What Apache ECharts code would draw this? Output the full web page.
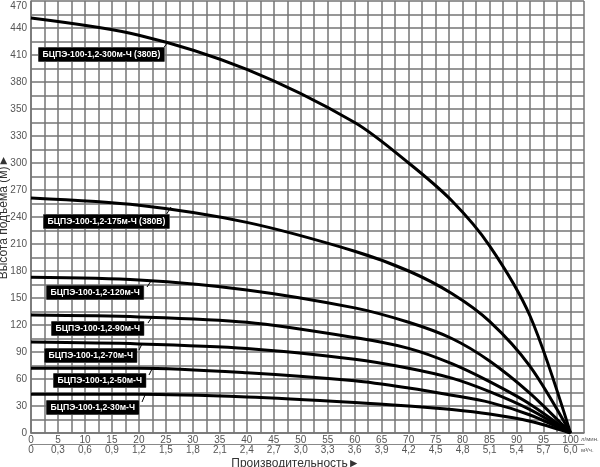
<!DOCTYPE html>
<html>
<head>
<meta charset="utf-8">
<script src="https://cdn.jsdelivr.net/npm/echarts@6/dist/echarts.min.js"></script>
<style>
  html, body { margin: 0; padding: 0; background: #fff; }
  #chart { width: 600px; height: 467px; }
</style>
</head>
<body>
<div id="chart"></div>
<script>
// расход, л/мин
var flow = [0, 20, 40, 60, 70, 78, 85, 92.5, 100]
// напор по шкале графика (м)
var head300 = [461, 442, 404, 345, 300, 258, 208, 130, 0]
var head175 = [261, 253, 234, 202, 180, 155, 124, 74, 0]
var head120 = [173, 170, 159, 139, 123, 105, 80, 44, 0]
var head90 = [131, 129, 123, 106, 94, 77, 57, 32, 0]
var head70 = [101, 99, 94, 82, 72, 61, 46, 26, 0]
var head50 = [72, 72, 67, 58, 50, 42, 34, 20, 0]
var head30 = [43, 43, 40, 34, 30, 26, 21, 13, 0]

var pumpNames = [
  'БЦПЭ-100-1,2-300м-Ч (380В)',
  'БЦПЭ-100-1,2-175м-Ч (380В)',
  'БЦПЭ-100-1,2-120м-Ч',
  'БЦПЭ-100-1,2-90м-Ч',
  'БЦПЭ-100-1,2-70м-Ч',
  'БЦПЭ-100-1,2-50м-Ч',
  'БЦПЭ-100-1,2-30м-Ч'
]

// подписи осей
var yTickLabels = ['0', '30', '60', '90', '120', '150', '180', '210', '240', '270', '300', '330', '350', '380', '410', '440', '470']
var flowLpm = ['0', '5', '10', '15', '20', '25', '30', '35', '40', '45', '50', '55', '60', '65', '70', '75', '80', '85', '90', '95', '100']
var flowM3h = ['0', '0,3', '0,6', '0,9', '1,2', '1,5', '1,8', '2,1', '2,4', '2,7', '3,0', '3,3', '3,6', '3,9', '4,2', '4,5', '4,8', '5,1', '5,4', '5,7', '6,0']

;(function () {
  var chart = echarts.init(document.getElementById('chart'))
  var heads = [head300, head175, head120, head90, head70, head50, head30]

  var gridLine = { show: true, lineStyle: { color: '#747474', width: 1.5 } }
  var font = '"Liberation Sans", Arial, sans-serif'

  var series = heads.map(function (h, k) {
    return {
      name: pumpNames[k],
      type: 'line',
      xAxisIndex: 0,
      showSymbol: false,
      smooth: 0.3,
      lineStyle: { color: '#000', width: 3 },
      data: flow.map(function (x, i) { return [x, h[i]] })
    }
  })

  // положение подписей насосов (пиксели)
  var boxes = [
    { left: 38, top: 47, line: [162, 50, 168, 42] },
    { left: 43, top: 214, line: [166, 215, 171, 207] },
    { left: 46, top: 285, line: [147, 287, 151, 281] },
    { left: 51, top: 321, line: [148, 323, 152, 317] },
    { left: 44, top: 348, line: [139, 350, 142, 344] },
    { left: 53, top: 373, line: [149, 375, 152, 369] },
    { left: 46, top: 400, line: [142, 402, 145, 395] }
  ]
  var graphics = []
  boxes.forEach(function (b, k) {
    graphics.push({
      type: 'line',
      shape: { x1: b.line[0], y1: b.line[1], x2: b.line[2], y2: b.line[3] },
      style: { stroke: '#000', lineWidth: 1 },
      z: 10
    })
    graphics.push({
      type: 'text',
      left: b.left,
      top: b.top,
      z: 11,
      style: {
        text: pumpNames[k],
        fill: '#fff',
        font: 'bold 8.6px ' + font,
        backgroundColor: '#000',
        borderColor: '#888',
        borderWidth: 0.5,
        padding: [3, 4, 2, 4]
      }
    })
  })
  graphics.push({
    type: 'text', left: 581, top: 436,
    style: { text: 'л/мин.', fill: '#555', font: '6px ' + font }
  })
  graphics.push({
    type: 'text', left: 581, top: 447,
    style: { text: 'м³/ч.', fill: '#555', font: '6px ' + font }
  })

  var option = {
    animation: false,
    backgroundColor: '#fff',
    grid: { left: 31, right: 16, top: 1, bottom: 34, outerBoundsMode: 'none', containLabel: false },
    xAxis: [
      {
        type: 'value',
        min: 0,
        max: 102.5,
        interval: 2.5,
        axisLine: { show: true, lineStyle: { color: '#747474', width: 1.5 } },
        axisTick: { show: false },
        splitLine: gridLine,
        axisLabel: {
          margin: 2,
          color: '#555',
          fontSize: 10,
          fontFamily: font,
          formatter: function (v) {
            if (v % 5 !== 0) return ''
            return flowLpm[v / 5] || ''
          }
        }
      },
      {
        type: 'value',
        position: 'bottom',
        offset: 11.5,
        min: 0,
        max: 102.5,
        interval: 2.5,
        axisLine: { show: true, lineStyle: { color: '#888', width: 1 } },
        axisTick: { show: false },
        splitLine: { show: false },
        name: 'Производительность►',
        nameLocation: 'middle',
        nameGap: 13,
        nameMoveOverlap: false,
        nameTextStyle: { color: '#333', fontSize: 12, fontFamily: font, padding: [0, 24, 0, 0] },
        axisLabel: {
          margin: 1,
          color: '#555',
          fontSize: 10,
          fontFamily: font,
          formatter: function (v) {
            if (v % 5 !== 0) return ''
            return flowM3h[v / 5] || ''
          }
        }
      }
    ],
    yAxis: {
      type: 'value',
      min: 0,
      max: 480,
      interval: 15,
      name: 'Высота подъёма (м)►',
      nameLocation: 'middle',
      nameGap: 21,
      nameRotate: 90,
      nameMoveOverlap: false,
      nameTextStyle: { color: '#333', fontSize: 12, fontFamily: font },
      axisLine: { show: true, lineStyle: { color: '#747474', width: 1.5 } },
      axisTick: { show: false },
      splitLine: gridLine,
      axisLabel: {
        margin: 4,
        color: '#555',
        fontSize: 10,
        fontFamily: font,
        formatter: function (v) {
          if (v % 30 !== 0) return ''
          var t = yTickLabels[v / 30] || ''
          return v === 480 ? '{t|' + t + '}' : t
        },
        rich: {
          t: { color: '#555', fontSize: 10, fontFamily: font, padding: [10, 0, 0, 0] }
        }
      }
    },
    series: series,
    graphic: graphics
  }

  chart.setOption(option)
})()
</script>
</body>
</html>
